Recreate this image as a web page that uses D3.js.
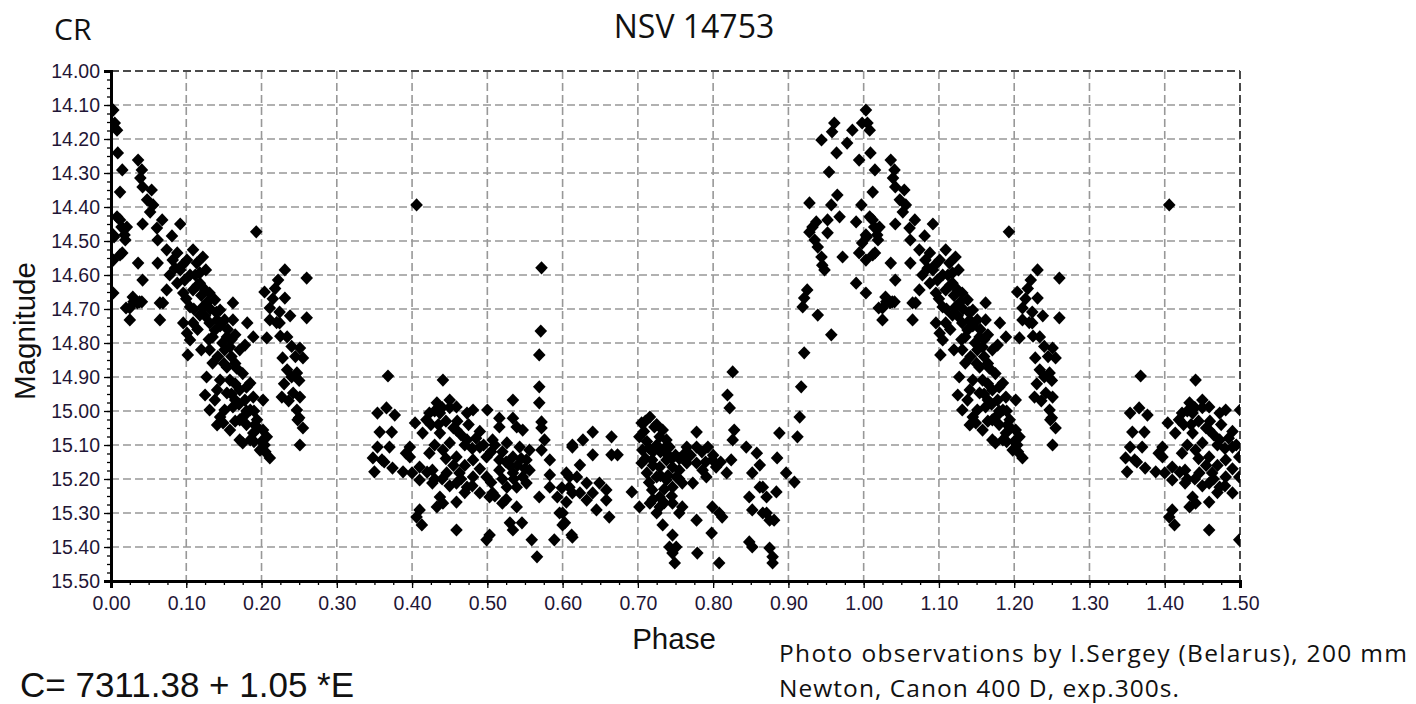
<!DOCTYPE html>
<html>
<head>
<meta charset="utf-8">
<script src="https://cdn.jsdelivr.net/npm/d3@7"></script>
<style>
  html, body { margin: 0; padding: 0; background: #fff; }
  svg { display: block; }
</style>
</head>
<body>
<svg id="chart" width="1416" height="704"></svg>
<script>
// NSV 14753 light curve, folded on C = 7311.38 + 1.05*E (phase 0..1)
// Phase observations [phase, magnitude]
const risingBranch = [
  [0.961,14.153],[0.958,14.179],[0.985,14.174],[0.944,14.203],[0.978,14.212],[0.964,14.241],
  [0.994,14.262],[0.954,14.297],[0.965,14.365],[0.957,14.394],[0.928,14.388],[0.997,14.394],
  [0.968,14.429],[0.952,14.438],[0.932,14.459],[0.928,14.474],[0.935,14.497],[0.939,14.518],
  [0.944,14.547],[0.945,14.571],[0.948,14.585],[0.952,14.476],[0.937,14.444],[0.990,14.444],
  [0.998,14.506],[0.994,14.535],[0.972,14.547],[0.925,14.644],[0.921,14.668],[0.919,14.694],
  [0.939,14.718],[0.957,14.776],[0.990,14.624],[0.921,14.829],[0.917,14.929],[0.915,15.018],
  [0.912,15.076],[0.998,14.153]
];
const decliningBranch = [
  [0.003,14.115],[0.005,14.153],[0.008,14.174],[0.009,14.241],[0.015,14.291],[0.012,14.356],
  [0.012,14.438],[0.021,14.459],[0.019,14.497],[0.015,14.535],[0.003,14.482],[0.003,14.556],
  [0.003,14.653],[0.036,14.262],[0.041,14.291],[0.039,14.315],[0.042,14.341],[0.054,14.350],
  [0.048,14.379],[0.056,14.394],[0.052,14.415],[0.068,14.438],[0.061,14.462],[0.042,14.450],
  [0.081,14.485],[0.092,14.450],[0.062,14.497],[0.074,14.526],[0.088,14.535],[0.109,14.526],
  [0.122,14.547],[0.193,14.473],[0.036,14.565],[0.042,14.615],[0.029,14.665],[0.035,14.682],
  [0.041,14.679],[0.025,14.697],[0.025,14.732],[0.065,14.732],[0.065,14.682],[0.062,14.565],
  [0.082,14.556],[0.092,14.585],[0.101,14.556],[0.114,14.565],[0.118,14.594],[0.088,14.624],
  [0.074,14.644],[0.069,14.682],[0.096,14.653],[0.109,14.644],[0.118,14.624],[0.131,14.653],
  [0.122,14.694],[0.105,14.694],[0.096,14.741],[0.109,14.741],[0.101,14.771],[0.105,14.791],
  [0.102,14.835],[0.131,14.741],[0.135,14.782],[0.131,14.820],[0.135,14.859],[0.141,14.732],
  [0.162,14.682],[0.162,14.732],[0.181,14.741],[0.154,14.782],[0.158,14.812],[0.189,14.782],
  [0.171,14.820],[0.154,14.871],[0.167,14.874],[0.127,14.900],[0.141,14.938],[0.154,14.947],
  [0.171,14.938],[0.185,14.918],[0.189,14.959],[0.202,14.968],[0.131,14.997],[0.145,15.018],
  [0.141,15.041],[0.162,14.988],[0.171,15.026],[0.185,14.997],[0.194,15.026],[0.202,15.056],
  [0.207,15.076],[0.149,15.035],[0.175,15.094],[0.198,15.115],[0.211,15.138],[0.189,15.065],
  [0.125,14.644],[0.138,14.673],[0.112,14.600],[0.126,14.585],[0.098,14.615],[0.145,14.703],
  [0.151,14.732],[0.118,14.718],[0.138,14.762],[0.151,14.820],[0.165,14.776],[0.178,14.806],
  [0.145,14.909],[0.158,14.909],[0.178,14.968],[0.165,14.968],[0.151,14.997],[0.178,15.012],
  [0.191,15.041],[0.158,15.056],[0.185,15.085],[0.171,15.085],[0.204,15.100],[0.138,14.968],
  [0.125,14.953],[0.004,14.488],[0.014,14.459],[0.018,14.482],[0.012,14.541],[0.020,14.697],
  [0.030,14.679],[0.038,14.679],[0.008,14.429],
  [0.095,14.570],[0.105,14.600],[0.115,14.630],[0.120,14.660],[0.128,14.680],[0.132,14.700],
  [0.140,14.710],[0.145,14.750],[0.155,14.760],[0.160,14.790],[0.148,14.800],[0.142,14.840],
  [0.150,14.860],[0.160,14.840],[0.165,14.860],[0.175,14.890],[0.180,14.930],[0.165,14.920],
  [0.160,14.950],[0.170,14.980],[0.180,15.000],[0.190,15.000],[0.195,15.050],[0.180,15.040],
  [0.165,15.030],[0.200,15.090],[0.205,15.120],[0.190,15.090],[0.085,14.580],[0.078,14.600],
  [0.100,14.670],[0.110,14.700],[0.125,14.720],[0.115,14.760],[0.130,14.790],[0.120,14.820]
];
const secondaryHump = [
  [0.231,14.585],[0.222,14.615],[0.260,14.609],[0.204,14.650],[0.231,14.668],[0.211,14.697],
  [0.224,14.709],[0.211,14.732],[0.224,14.741],[0.260,14.726],[0.207,14.785],[0.234,14.782],
  [0.251,14.815],[0.228,14.844],[0.255,14.844],[0.234,14.879],[0.247,14.888],[0.227,14.959],
  [0.242,14.947],[0.251,14.959],[0.247,14.997],[0.248,15.026],[0.255,15.050],[0.251,15.100],
  [0.215,14.670],[0.220,14.740],[0.225,14.780],[0.240,14.810],[0.245,14.840],[0.240,14.900],
  [0.250,14.910],[0.230,14.920],[0.236,14.970],[0.250,15.020],[0.238,14.720],[0.218,14.640]
];
const minimumFirst = [
  [0.368,14.897],[0.354,15.006],[0.366,14.991],[0.357,15.062],[0.373,15.062],[0.354,15.106],
  [0.370,15.106],[0.348,15.138],[0.360,15.144],[0.350,15.179],[0.374,15.168],[0.388,15.179],
  [0.400,15.182],[0.397,15.106],[0.397,15.135],[0.404,15.035],[0.406,14.394],[0.441,14.909],
  [0.433,14.976],[0.450,14.968],[0.423,15.006],[0.437,15.006],[0.459,14.988],[0.473,15.006],
  [0.481,14.997],[0.500,14.997],[0.534,14.968],[0.516,15.021],[0.534,15.021],[0.516,15.047],
  [0.539,15.047],[0.547,15.056],[0.419,15.026],[0.414,15.065],[0.437,15.065],[0.459,15.056],
  [0.450,15.094],[0.473,15.085],[0.490,15.106],[0.507,15.085],[0.526,15.094],[0.543,15.106],
  [0.556,15.115],[0.423,15.124],[0.441,15.115],[0.459,15.135],[0.481,15.144],[0.499,15.135],
  [0.516,15.144],[0.534,15.135],[0.552,15.144],[0.556,15.174],[0.410,15.165],[0.427,15.174],
  [0.446,15.182],[0.463,15.182],[0.481,15.194],[0.499,15.194],[0.516,15.174],[0.534,15.182],
  [0.547,15.194],[0.410,15.203],[0.427,15.212],[0.459,15.212],[0.473,15.224],[0.490,15.241],
  [0.507,15.241],[0.526,15.224],[0.539,15.224],[0.552,15.212],[0.503,15.253],[0.520,15.271],
  [0.539,15.282],[0.437,15.253],[0.441,15.271],[0.433,15.282],[0.459,15.268],[0.410,15.291],
  [0.406,15.312],[0.413,15.335],[0.459,15.350],[0.499,15.379],[0.503,15.365],[0.530,15.329],
  [0.546,15.329],[0.534,15.350],[0.569,14.929],[0.569,14.976],[0.572,15.032],[0.572,15.050],
  [0.576,15.085],[0.572,15.115],[0.583,15.144],[0.583,15.188],[0.583,15.224],[0.569,15.253],
  [0.593,15.253],[0.599,15.226],[0.559,15.379],[0.566,15.429],[0.589,15.379],[0.612,15.365],
  [0.596,15.300],[0.600,15.335],[0.613,15.106],[0.609,15.194],[0.613,15.241],[0.572,14.579],
  [0.571,14.765],[0.569,14.835],[0.377,15.012],[0.363,15.150],[0.392,15.124],
  [0.445,15.030],[0.455,15.050],[0.465,15.070],[0.470,15.100],[0.480,15.110],[0.485,15.080],
  [0.495,15.100],[0.505,15.120],[0.510,15.100],[0.520,15.120],[0.525,15.150],[0.530,15.160],
  [0.540,15.160],[0.545,15.140],[0.550,15.170],[0.535,15.200],[0.520,15.200],[0.505,15.210],
  [0.490,15.170],[0.470,15.160],[0.455,15.160],[0.445,15.140],[0.430,15.100],[0.425,15.040],
  [0.435,15.040],[0.460,15.030],[0.475,15.040],[0.490,15.060],[0.465,15.200],[0.450,15.220],
  [0.440,15.200],[0.430,15.200],[0.420,15.180],[0.480,15.220],[0.510,15.250],[0.525,15.260],
  [0.470,15.240],[0.450,14.990],[0.440,14.990],[0.430,15.000]
];
const minimumSecond = [
  [0.826,14.885],[0.819,14.953],[0.822,14.991],[0.828,15.056],[0.826,15.085],[0.844,15.106],
  [0.858,15.124],[0.862,15.159],[0.852,15.182],[0.824,15.144],[0.888,15.065],[0.885,15.138],
  [0.897,15.182],[0.908,15.209],[0.848,15.253],[0.862,15.224],[0.871,15.253],[0.884,15.238],
  [0.852,15.291],[0.866,15.300],[0.875,15.321],[0.881,15.321],[0.848,15.385],[0.852,15.400],
  [0.875,15.403],[0.879,15.429],[0.879,15.447],[0.808,15.447],[0.798,15.359],[0.799,15.282],
  [0.808,15.300],[0.812,15.312],[0.779,15.418],[0.778,15.321],[0.613,15.100],[0.627,15.085],
  [0.640,15.062],[0.640,15.129],[0.665,15.076],[0.665,15.129],[0.673,15.129],[0.623,15.159],
  [0.605,15.182],[0.619,15.194],[0.632,15.212],[0.649,15.212],[0.658,15.232],[0.609,15.224],
  [0.623,15.241],[0.640,15.241],[0.658,15.262],[0.605,15.268],[0.645,15.291],[0.662,15.312],
  [0.600,15.300],[0.603,15.329],[0.613,15.371],[0.632,15.262],[0.716,15.018],[0.722,15.047],
  [0.705,15.035],[0.702,15.076],[0.733,15.056],[0.729,15.076],[0.738,15.085],[0.706,15.115],
  [0.705,15.153],[0.712,15.182],[0.719,15.144],[0.729,15.165],[0.738,15.144],[0.746,15.165],
  [0.755,15.174],[0.742,15.106],[0.765,15.106],[0.778,15.106],[0.793,15.106],[0.778,15.062],
  [0.765,15.153],[0.778,15.153],[0.786,15.174],[0.799,15.144],[0.804,15.165],[0.818,15.182],
  [0.791,15.194],[0.725,15.194],[0.738,15.203],[0.751,15.194],[0.719,15.232],[0.729,15.253],
  [0.746,15.224],[0.759,15.212],[0.773,15.212],[0.716,15.271],[0.729,15.282],[0.725,15.300],
  [0.746,15.271],[0.759,15.282],[0.755,15.300],[0.692,15.238],[0.702,15.282],[0.733,15.335],
  [0.746,15.365],[0.742,15.400],[0.751,15.400],[0.746,15.418],[0.749,15.447],[0.866,15.224],
  [0.871,15.300],
  [0.708,15.060],[0.712,15.090],[0.715,15.110],[0.720,15.120],[0.725,15.100],[0.730,15.120],
  [0.735,15.110],[0.740,15.130],[0.745,15.140],[0.750,15.130],[0.755,15.140],[0.760,15.130],
  [0.770,15.130],[0.725,15.040],[0.710,15.030],[0.720,15.160],[0.730,15.190],[0.740,15.190],
  [0.715,15.210],[0.735,15.230],[0.720,15.260],[0.735,15.270],[0.745,15.250],[0.710,15.140],
  [0.755,15.200],[0.785,15.120],[0.790,15.150],[0.800,15.130],[0.810,15.150]
];

// Axis ticks
const phaseTicks = d3.range(0, 16).map(i => i / 10);
const magTicks = d3.range(0, 16).map(i => 14 + i / 10);

const width = 1416, height = 704;
const margin = { left: 111, right: 176, top: 71, bottom: 123 };
const plotW = width - margin.left - margin.right;
const plotH = height - margin.top - margin.bottom;

const x = d3.scaleLinear().domain([0, 1.5]).range([0, plotW]);
const y = d3.scaleLinear().domain([14.0, 15.5]).range([0, plotH]);

const svg = d3.select("#chart");
const g = svg.append("g").attr("transform", `translate(${margin.left},${margin.top})`);

svg.append("defs").append("clipPath").attr("id", "plotClip")
  .append("rect").attr("x", 0).attr("y", 0).attr("width", plotW).attr("height", plotH);

// grid
const grid = g.append("g");
grid.selectAll("line.v").data(phaseTicks.slice(1, -1)).join("line")
  .attr("x1", d => x(d)).attr("x2", d => x(d)).attr("y1", 0).attr("y2", plotH)
  .attr("stroke", "#989898").attr("stroke-width", 1.6).attr("stroke-dasharray", "8,4");
grid.selectAll("line.h").data(magTicks.slice(1, -1)).join("line")
  .attr("x1", 0).attr("x2", plotW).attr("y1", d => y(d)).attr("y2", d => y(d))
  .attr("stroke", "#989898").attr("stroke-width", 1.6).attr("stroke-dasharray", "8,4");
// dashed frame on top and right
g.append("line").attr("x1", 0).attr("x2", plotW).attr("y1", 0).attr("y2", 0)
  .attr("stroke", "#4a4a4a").attr("stroke-width", 2).attr("stroke-dasharray", "8,4");
g.append("line").attr("x1", plotW).attr("x2", plotW).attr("y1", 0).attr("y2", plotH)
  .attr("stroke", "#4a4a4a").attr("stroke-width", 2).attr("stroke-dasharray", "8,4");

// observations folded twice over 0..1.5
const observations = [].concat(risingBranch, decliningBranch, secondaryHump, minimumFirst, minimumSecond);
const plotted = observations.concat(observations.filter(d => d[0] <= 0.5).map(d => [d[0] + 1, d[1]]));

const diamond = "M0,-6.6L6.3,0L0,6.6L-6.3,0Z";
g.append("g").attr("clip-path", "url(#plotClip)")
  .selectAll("path").data(plotted).join("path")
  .attr("d", diamond)
  .attr("transform", d => `translate(${x(d[0])},${y(d[1])})`)
  .attr("fill", "#000");

// axes
const tickFont = "'Liberation Sans', Arial, sans-serif";
const yAxis = g.append("g")
  .call(d3.axisLeft(y).tickValues(magTicks).tickFormat(d3.format(".2f")).tickSize(7).tickPadding(4));
const yMinor = g.append("g")
  .call(d3.axisLeft(y).tickValues(d3.range(0, 61).map(i => 14 + i * 0.025)).tickFormat("").tickSize(4));
const xAxis = g.append("g").attr("transform", `translate(0,${plotH})`)
  .call(d3.axisBottom(x).tickValues(phaseTicks).tickFormat(d3.format(".2f")).tickSize(7).tickPadding(8));
const xMinor = g.append("g").attr("transform", `translate(0,${plotH})`)
  .call(d3.axisBottom(x).tickValues(d3.range(0, 61).map(i => i * 0.025)).tickFormat("").tickSize(4));

[yAxis, xAxis, yMinor, xMinor].forEach(a => {
  a.select(".domain").attr("stroke", "#000").attr("stroke-width", 3);
  a.selectAll(".tick line").attr("stroke", "#000").attr("stroke-width", 1.3);
  a.selectAll("text").attr("font-family", tickFont).attr("font-size", 19.5).attr("fill", "#1f1636");
});

// labels
const magY = 331;
svg.append("text").attr("x", 35).attr("y", magY)
  .attr("transform", `rotate(-90,35,${magY})`)
  .attr("text-anchor", "middle").attr("font-family", tickFont).attr("font-size", 29.5)
  .attr("fill", "#111").text("Magnitude");
svg.append("text").attr("x", 674).attr("y", 649)
  .attr("text-anchor", "middle").attr("font-family", tickFont).attr("font-size", 29.5)
  .attr("fill", "#111").text("Phase");

const sideFont = "'Open Sans', 'Noto Sans', sans-serif";
svg.append("text").attr("x", 54).attr("y", 40).attr("font-family", sideFont).attr("font-size", 30)
  .attr("fill", "#111").text("CR");
svg.append("text").attr("x", 694).attr("y", 38).attr("text-anchor", "middle")
  .attr("font-family", sideFont).attr("font-size", 32).attr("fill", "#111").text("NSV 14753");

svg.append("text").attr("x", 20).attr("y", 697).attr("font-family", tickFont).attr("font-size", 35)
  .attr("fill", "#111").text("C= 7311.38 + 1.05 *E");

svg.append("text").attr("x", 779).attr("y", 662).attr("font-family", sideFont)
  .attr("font-size", 24.5).attr("textLength", 628).attr("lengthAdjust", "spacing")
  .attr("fill", "#111").text("Photo observations by I.Sergey (Belarus), 200 mm");
svg.append("text").attr("x", 779).attr("y", 697).attr("font-family", sideFont)
  .attr("font-size", 24.5).attr("textLength", 400).attr("lengthAdjust", "spacing")
  .attr("fill", "#111").text("Newton, Canon 400 D, exp.300s.");
</script>
</body>
</html>
